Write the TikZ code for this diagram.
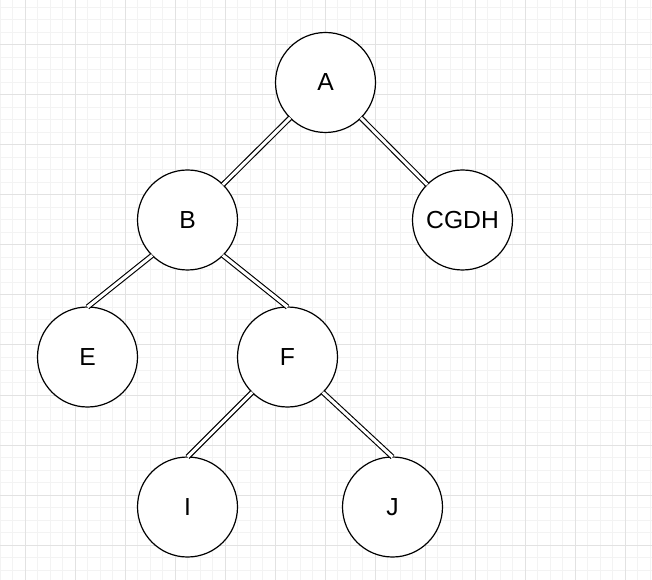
\documentclass[tikz,border=0pt]{standalone}
\usepackage{fontspec}
\setmainfont{Liberation Sans}
\definecolor{gridminor}{HTML}{F3F3F3}
\definecolor{gridmajor}{HTML}{E2E2E2}
\begin{document}
\begin{tikzpicture}[x=0.75pt,y=-0.75pt,
  treenode/.style={circle,draw=black,line width=0.9pt,fill=white,minimum size=75pt,inner sep=0pt,outer sep=0pt,font=\fontsize{18.5}{20}\selectfont},
  link/.style={draw=black,double=white,double distance=2.3pt,line width=0.85pt,line cap=butt}]
\useasboundingbox (0,0) rectangle (652,580);
\fill[white] (0,0) rectangle (652,580);
% minor grid
\foreach \i in {0,...,52} {
  \draw[gridminor,line width=0.75pt] (12.5*\i,0) -- (12.5*\i,580);
}
\foreach \j in {0,...,46} {
  \draw[gridminor,line width=0.75pt] (0,7.5+12.5*\j) -- (652,7.5+12.5*\j);
}
% major grid
\foreach \i in {0,...,12} {
  \draw[gridmajor,line width=0.75pt] (25+50*\i,0) -- (25+50*\i,580);
}
\foreach \j in {0,...,10} {
  \draw[gridmajor,line width=0.75pt] (0,45+50*\j) -- (652,45+50*\j);
}
% nodes
\node[treenode] (A) at (325.5,82.5) {A};
\node[treenode] (B) at (187.5,220) {B};
\node[treenode] (C) at (462.5,220) {CGDH};
\node[treenode] (E) at (87.5,357) {E};
\node[treenode] (F) at (287.5,357) {F};
\node[treenode] (I) at (187.5,507) {I};
\node[treenode] (J) at (392.5,507) {J};
% links
\draw[link] (A.225) -- (B.45);
\draw[link] (A.-45) -- (C.135);
\draw[link] (B.225) -- (E.north);
\draw[link] (B.-45) -- (F.north);
\draw[link] (F.225) -- (I.north);
\draw[link] (F.-45) -- (J.north);
\end{tikzpicture}
\end{document}
